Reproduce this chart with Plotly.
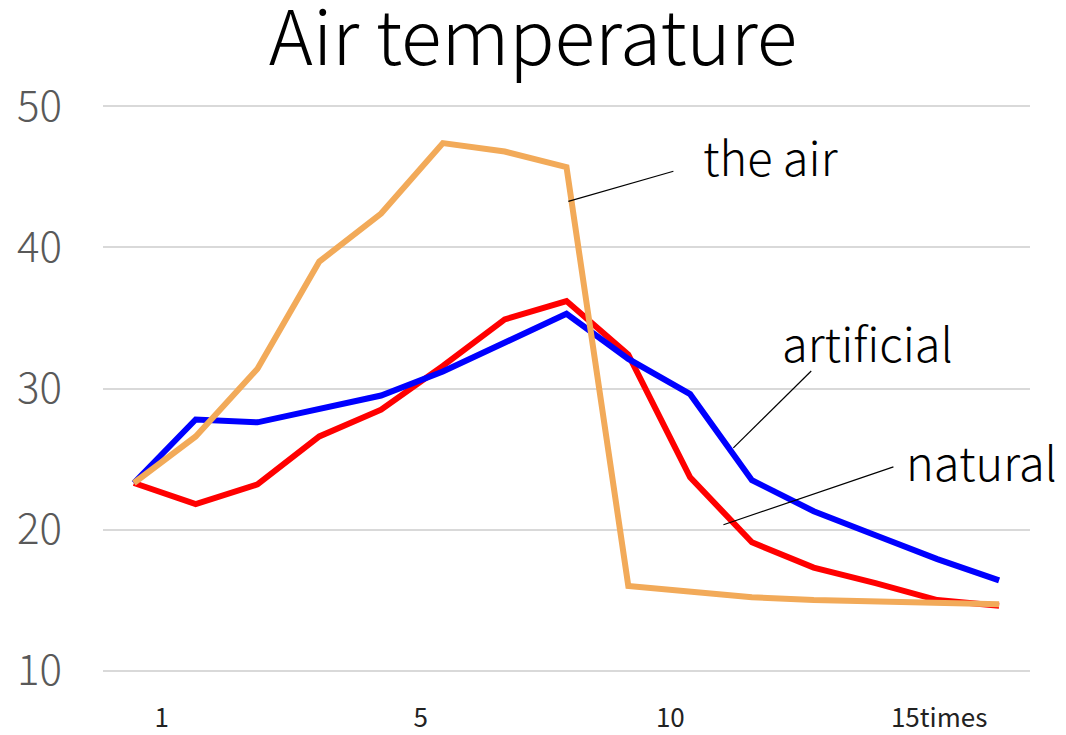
import plotly.graph_objects as go

times = list(range(1, 16))
natural = [23.3, 21.8, 23.2, 26.6, 28.5, 31.6, 34.9, 36.2, 32.4, 23.7, 19.1, 17.3, 16.2, 15.0, 14.6]
artificial = [23.3, 27.8, 27.6, 28.6, 29.5, 31.2, 33.3, 35.3, 32.1, 29.6, 23.5, 21.3, 19.6, 17.9, 16.4]
the_air = [23.3, 26.6, 31.4, 39.0, 42.4, 47.4, 46.8, 45.7, 16.0, 15.6, 15.2, 15.0, 14.9, 14.7, 14.7]

x_tick_text = ["1", "5", "10", "15times"]
x_tick_pos = [1.45, 5.64, 9.68, 14.03]
y_ticks = [10, 20, 30, 40, 50]

FONT = "Noto Sans CJK JP"

fig = go.Figure()
fig.add_trace(go.Scatter(x=times, y=natural, mode="lines", name="natural",
                         line=dict(color="#FF0000", width=6)))
fig.add_trace(go.Scatter(x=times, y=artificial, mode="lines", name="artificial",
                         line=dict(color="#0000FF", width=6)))
fig.add_trace(go.Scatter(x=times, y=the_air, mode="lines", name="the air",
                         line=dict(color="#F2AA59", width=6)))

# leader lines for the labels
leaders = [
    ((9.73, 45.40), (8.03, 43.27)),
    ((11.96, 31.24), (10.70, 25.79)),
    ((13.29, 24.44), (10.54, 20.34)),
]
for (x0, y0), (x1, y1) in leaders:
    fig.add_shape(type="line", xref="x", yref="y", x0=x0, y0=y0, x1=x1, y1=y1,
                  line=dict(color="#000000", width=1.2))

labels = [("the air", 11.30, 46.5), ("artificial", 12.87, 33.3), ("natural", 14.71, 24.9)]
for txt, lx, ly in labels:
    fig.add_annotation(x=lx, y=ly, xref="x", yref="y", text=txt, showarrow=False,
                       xanchor="center", yanchor="middle",
                       font=dict(family=FONT, size=47, color="#000000", weight=300))

fig.update_layout(
    width=1066, height=735,
    margin=dict(l=103, r=36, t=105, b=63),
    paper_bgcolor="white", plot_bgcolor="white",
    showlegend=False,
    title=dict(text="Air temperature", x=0.5, xref="container", xanchor="center",
               y=1 - 39 / 735, yref="container", yanchor="middle",
               font=dict(family=FONT, size=75, color="#000000", weight=300)),
    font=dict(family=FONT),
)
fig.update_xaxes(range=[0.5, 15.5], tickvals=x_tick_pos, ticktext=x_tick_text,
                 showgrid=False, showline=False, zeroline=False, ticks="",
                 ticklabelstandoff=28, automargin=False,
                 tickfont=dict(family=FONT, size=26, color="#222222"))
fig.update_yaxes(range=[9.9, 50.1], tickvals=y_ticks, showgrid=True, gridcolor="#D9D9D9",
                 gridwidth=1.5, showline=False, zeroline=False, ticks="",
                 ticklabelstandoff=40, automargin=False,
                 tickfont=dict(family=FONT, size=42, color="#595959", weight=300))

fig.write_html("out.html")
